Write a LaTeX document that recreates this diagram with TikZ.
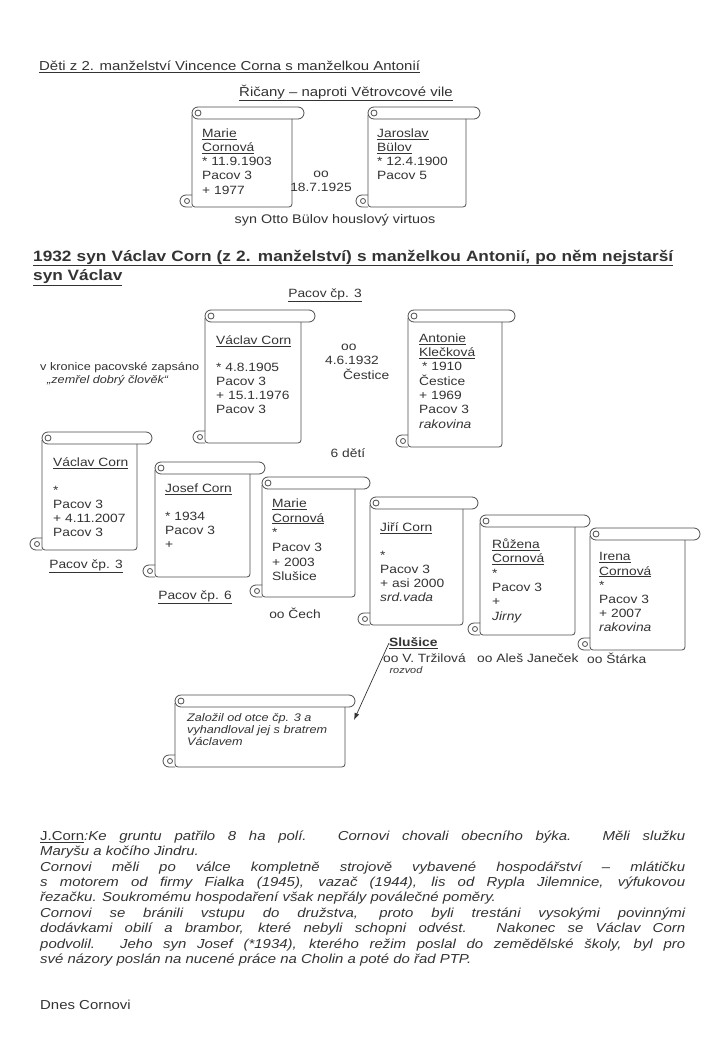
\documentclass[tikz,border=0pt]{standalone}
\usepackage{fontspec}
\setmainfont[FakeStretch=1.15]{Liberation Sans}
\usetikzlibrary{arrows.meta}

\tikzset{
  okraj/.style={draw=black!70, line width=0.8pt},
  udaj/.style={anchor=north west, align=left, inner sep=0pt, text=black!80,
    font=\fontsize{12}{14.2}\selectfont},
  popis/.style={inner sep=0pt, text=black!80, font=\fontsize{12}{14}\selectfont},
  sipka/.style={-{Latex[length=7pt,width=5pt]}, draw=black!80, line width=0.7pt}
}

% svitek: #1 levy okraj, #2 horni okraj, #3 konec role, #4 pravy okraj, #5 spodek
\newcommand{\svitek}[5]{%
  \draw[okraj, fill=white, rounded corners=6] (#1,#2) rectangle (#3,#2+12);
  \draw[okraj, rounded corners=3] (#1,#2+8) -- (#1,#5) -- (#4,#5) -- (#4,#2+12);
  \draw[okraj, rounded corners=6] (#1,#5-12) -- (#1-12,#5-12) -- (#1-12,#5) -- (#1,#5);
  \draw[okraj] (#1+6,#2+6) circle[radius=3];
  \draw[okraj] (#1-5,#5-6) circle[radius=2.5];
}

\begin{document}
\begin{tikzpicture}[x=1pt,y=-1pt]
\useasboundingbox (0,0) rectangle (721,1059);

% deti z 2. manzelstvi
\node[popis, anchor=west, font=\fontsize{13}{15}\selectfont] (nadpis) at (39,67)
  {\underline{Děti z 2. manželství Vincence Corna s manželkou Antonií}};
\node[popis, font=\fontsize{13}{15}\selectfont] (ricany) at (346,93)
  {\underline{Řičany – naproti Větrovcové vile}};
\svitek{192}{107}{304}{292}{207}
\svitek{368}{107}{480}{466}{207}
\node[udaj] (marie) at (202,128.5)
  {\underline{Marie}\\\underline{Cornová}\\{}* 11.9.1903\\Pacov 3\\+ 1977};
\node[udaj] (jaroslav) at (377,128.5)
  {\underline{Jaroslav}\\\underline{Bülov}\\{}* 12.4.1900\\Pacov 5};
\node[popis, anchor=north, align=center, font=\fontsize{12}{13.5}\selectfont] (svatba1) at (321,171)
  {oo\\18.7.1925};
\node[popis, font=\fontsize{12.5}{14}\selectfont] (otto) at (335,220)
  {syn Otto Bülov houslový virtuos};

% 1932
\node[popis, anchor=west, font=\fontsize{15}{19}\bfseries] (nadpis2) at (33,258)
  {\underline{\makebox[640pt][s]{1932 syn Václav Corn (z 2. manželství) s manželkou Antonií, po něm nejstarší}}};
\node[popis, anchor=west, font=\fontsize{15}{19}\bfseries] (nadpis3) at (33,278)
  {\underline{syn Václav}};
\node[popis] (pacov1) at (325,295) {\underline{Pacov čp. 3}};

\node[popis, anchor=north west, align=left, font=\fontsize{11}{12.3}\selectfont] (kronika) at (40,362.5)
  {v kronice pacovské zapsáno\\\hspace*{7pt}\textit{„zemřel dobrý člověk“}};
\svitek{205}{310}{315}{301}{443}
\svitek{408}{310}{515}{502}{447}
\node[udaj, font=\fontsize{12}{13.7}\selectfont] (vaclav) at (216,335.5)
  {\underline{Václav Corn}\\~\\{}* 4.8.1905\\Pacov 3\\+ 15.1.1976\\Pacov 3};
\node[popis, anchor=north west, align=left, font=\fontsize{12}{14.5}\selectfont] (svatba2) at (325,343.5)
  {\hspace*{16pt}oo\\4.6.1932\\\hspace*{18pt}Čestice};
\node[udaj, font=\fontsize{12}{14.3}\selectfont] (antonie) at (419,333.5)
  {\underline{Antonie}\\\underline{Klečková}\\\hspace*{3pt}* 1910\\Čestice\\+ 1969\\Pacov 3\\\textit{rakovina}};
\node[popis] (deti) at (348,453) {6 dětí};

% sest deti
\svitek{42}{432}{152}{137}{550}
\node[udaj, font=\fontsize{12}{14}\selectfont] (vaclavsyn) at (53,457.5)
  {\underline{Václav Corn}\\~\\{}*\\Pacov 3\\+ 4.11.2007\\Pacov 3};
\node[popis] (pacov2) at (86,566) {\underline{Pacov čp. 3}};

\svitek{155}{462}{265}{250}{577}
\node[udaj, font=\fontsize{12}{14}\selectfont] (josef) at (165,483.5)
  {\underline{Josef Corn}\\~\\{}* 1934\\Pacov 3\\+};
\node[popis] (pacov3) at (195,597) {\underline{Pacov čp. 6}};

\svitek{262}{477}{370}{355}{597}
\node[udaj, font=\fontsize{12}{14.7}\selectfont] (mariecorn) at (272,498.5)
  {\underline{Marie}\\\underline{Cornová}\\{}*\\Pacov 3\\+ 2003\\Slušice};
\node[popis] (cech) at (295,613) {oo Čech};

\svitek{370}{497}{478}{463}{625}
\node[udaj, font=\fontsize{12}{14}\selectfont] (jiri) at (380,522.5)
  {\underline{Jiří Corn}\\~\\{}*\\Pacov 3\\+ asi 2000\\\textit{srd.vada}};

\svitek{480}{515}{590}{575}{635}
\node[udaj, font=\fontsize{12}{14.4}\selectfont] (ruzena) at (492,538.5)
  {\underline{Růžena}\\\underline{Cornová}\\{}*\\Pacov 3\\+\\\textit{Jirny}};

\svitek{590}{528}{700}{685}{650}
\node[udaj] (irena) at (599,552.5)
  {\underline{Irena}\\\underline{Cornová}\\{}*\\Pacov 3\\+ 2007\\\textit{rakovina}};

\node[popis, anchor=west, font=\fontsize{12}{14}\bfseries] (slusice) at (389,643) {\underline{Slušice}};
\node[popis, anchor=west] (trzilova) at (383,658) {oo V. Tržilová};
\node[popis, font=\fontsize{9.5}{11}\itshape] (rozvod) at (406,670) {rozvod};
\node[popis, anchor=west] (janecek) at (477,658) {oo Aleš Janeček};
\node[popis, anchor=west] (starka) at (587,658) {oo Štárka};

% zapis o Josefovi
\svitek{175}{695}{355}{345}{767}
\node[udaj, font=\fontsize{11}{12}\itshape] (zapis) at (187,713.5)
  {Založil od otce čp. 3 a\\vyhandloval jej s bratrem\\Václavem};
\coordinate (poznamka) at (354,720);
\draw[sipka] (slusice.west) -- (poznamka);

% odstavec
\node[udaj, font=\fontsize{13}{15.4}\itshape] (odstavec) at (40,830.5)
  {\makebox[645pt][s]{\textup{\underline{J.Corn}}:Ke gruntu patřilo 8 ha polí. Cornovi chovali obecního býka. Měli služku}\\
   Maryšu a kočího Jindru.\\
   \makebox[645pt][s]{Cornovi měli po válce kompletně strojově vybavené hospodářství – mlátičku}\\
   \makebox[645pt][s]{s motorem od firmy Fialka (1945), vazač (1944), lis od Rypla Jilemnice, výfukovou}\\
   řezačku. Soukromému hospodaření však nepřály poválečné poměry.\\
   \makebox[645pt][s]{Cornovi se bránili vstupu do družstva, proto byli trestáni vysokými povinnými}\\
   \makebox[645pt][s]{dodávkami obilí a brambor, které nebyli schopni odvést. Nakonec se Václav Corn}\\
   \makebox[645pt][s]{podvolil. Jeho syn Josef (*1934), kterého režim poslal do zemědělské školy, byl pro}\\
   své názory poslán na nucené práce na Cholin a poté do řad PTP.};
\node[popis, anchor=west, font=\fontsize{13}{15}\selectfont] (dnes) at (40,1005) {Dnes Cornovi};
\end{tikzpicture}
\end{document}
